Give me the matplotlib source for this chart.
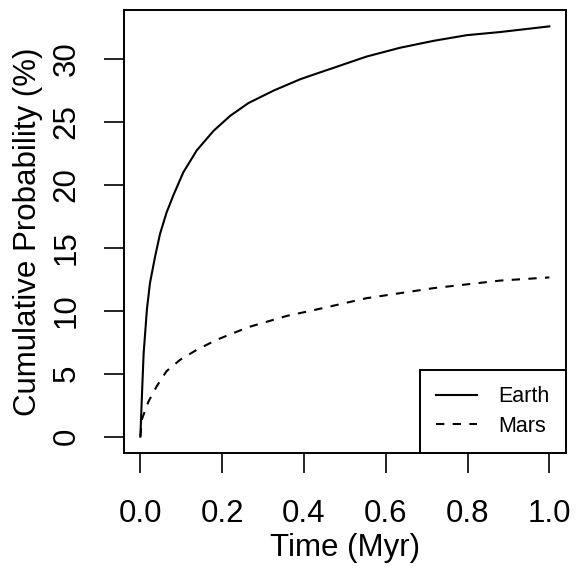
import matplotlib
matplotlib.use("Agg")
import matplotlib.pyplot as plt

plt.rcParams['font.family'] = ['Liberation Sans', 'DejaVu Sans']

# values (time in Myr, probability in %)
earth_t = [0, 0.004, 0.008, 0.016, 0.0235, 0.036, 0.048, 0.064, 0.081, 0.105,
           0.138, 0.179, 0.22, 0.264, 0.326, 0.391, 0.44, 0.472, 0.553, 0.635,
           0.717, 0.798, 0.88, 1.0]
earth_p = [0, 3.4, 6.6, 10.1, 12.2, 14.3, 16.1, 17.8, 19.2, 21.0,
           22.75, 24.3, 25.5, 26.5, 27.5, 28.4, 28.95, 29.3, 30.2, 30.9,
           31.45, 31.9, 32.15, 32.6]

mars_t = [0, 0.004, 0.02, 0.04, 0.064, 0.097, 0.138, 0.187, 0.264, 0.359,
          0.424, 0.553, 0.717, 0.88, 1.0]
mars_p = [0, 1.4, 2.8, 4.0, 5.2, 6.1, 6.9, 7.7, 8.7, 9.6,
          10.05, 11.0, 11.8, 12.4, 12.65]

x_ticks = [0.0, 0.2, 0.4, 0.6, 0.8, 1.0]
y_ticks = [0, 5, 10, 15, 20, 25, 30]

fig = plt.figure(figsize=(5.77, 5.75), dpi=100)
ax = fig.add_axes([0.2149, 0.2122, 0.9804 - 0.2149, 0.9826 - 0.2122])

ax.plot(earth_t, earth_p, color='black', lw=1.5, label='Earth')
ax.plot(mars_t, mars_p, color='black', lw=1.5, linestyle=(0, (4, 4)), label='Mars')

ax.set_xlim(-0.04, 1.04)
ax.set_ylim(-1.3, 33.9)
ax.set_xticks(x_ticks)
ax.set_xticklabels([f"{v:.1f}" for v in x_ticks])
ax.set_yticks(y_ticks)
ax.set_yticklabels([str(v) for v in y_ticks], rotation=90, va='center')

ax.tick_params(axis='both', direction='out', length=14.4, width=1.2,
               labelsize=22.5)
ax.tick_params(axis='x', pad=19)
ax.tick_params(axis='y', pad=16)
for sp in ax.spines.values():
    sp.set_linewidth(1.4)

ax.set_xlabel('Time (Myr)', fontsize=22.5, labelpad=2.5)
ax.set_ylabel('Cumulative Probability (%)', fontsize=22.5, labelpad=6)

leg = ax.legend(loc='lower right', borderaxespad=0, fancybox=False,
                edgecolor='black', framealpha=1, fontsize=15.5,
                handlelength=1.9, borderpad=0.75, labelspacing=0.4,
                handletextpad=1.0)
leg.get_frame().set_linewidth(1.4)

fig.savefig('out.png', dpi=100)
